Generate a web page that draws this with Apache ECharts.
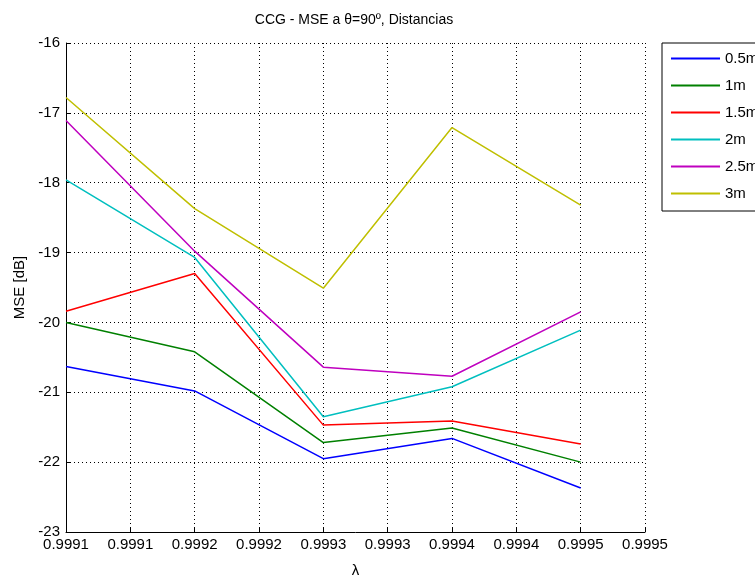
<!DOCTYPE html>
<html>
<head>
<meta charset="utf-8">
<script src="https://cdn.jsdelivr.net/npm/echarts@6/dist/echarts.min.js"></script>
<style>html,body{margin:0;padding:0;background:#fff;}#chart{width:755px;height:583px;}</style>
</head>
<body>
<div id="chart"></div>
<script>
const lambdas = [0.9991, 0.9992, 0.9993, 0.9994, 0.9995];
const seriesNames = ["0.5m", "1m", "1.5m", "2m", "2.5m", "3m"];
const mse_05 = [-20.63, -20.98, -21.95, -21.66, -22.37];
const mse_1  = [-20.00, -20.42, -21.72, -21.51, -22.00];
const mse_15 = [-19.84, -19.30, -21.47, -21.41, -21.74];
const mse_2  = [-17.96, -19.07, -21.35, -20.92, -20.11];
const mse_25 = [-17.11, -18.98, -20.64, -20.77, -19.85];
const mse_3  = [-16.78, -18.37, -19.51, -17.21, -18.32];
const xTickLabels = ["0.9991","0.9991","0.9992","0.9992","0.9993","0.9993","0.9994","0.9994","0.9995","0.9995"];
const xMin = 0.9991, xMax = 0.99955, xStep = 0.00005;
const yMin = -23, yMax = -16, yStep = 1;
const colors = ["#0000ff", "#008000", "#ff0000", "#00bfbf", "#bf00bf", "#bfbf00"];
const allValues = [mse_05, mse_1, mse_15, mse_2, mse_25, mse_3];

const FONT = "'Liberation Sans', Arial, sans-serif";
const chart = echarts.init(document.getElementById('chart'), null, {renderer: 'canvas'});
const option = {
  animation: false,
  backgroundColor: '#ffffff',
  color: colors,
  graphic: [{
    type: 'text', x: 354, y: 20,
    style: { text: 'CCG - MSE a θ=90º, Distancias', font: '14px ' + FONT, fill: '#000', textAlign: 'center', textVerticalAlign: 'middle' }
  }],
  grid: { left: 66, right: 110, top: 43, bottom: 48, containLabel: false },
  legend: {
    orient: 'vertical', left: 662, top: 43,
    padding: [8, 30, 10, 9], itemGap: 12, itemWidth: 49, itemHeight: 14,
    borderColor: '#000', borderWidth: 1, backgroundColor: '#fff',
    textStyle: { fontFamily: FONT, fontSize: 15, color: '#000' },
    data: seriesNames.map(n => ({ name: n, icon: 'path://M0,6L49,6L49,8L0,8Z' }))
  },
  xAxis: {
    type: 'value', min: xMin, max: xMax, interval: xStep,
    name: 'λ', nameLocation: 'middle', nameGap: 31,
    nameTextStyle: { fontFamily: FONT, fontSize: 15, color: '#000' },
    axisLine: { show: true, lineStyle: { color: '#000', width: 1 } },
    axisTick: { show: true, inside: true, length: 5, lineStyle: { color: '#000' } },
    axisLabel: { margin: 5, fontFamily: FONT, fontSize: 15, color: '#000',
      formatter: v => xTickLabels[Math.round((v - xMin) / xStep)] },
    splitLine: { show: true, lineStyle: { color: '#000', width: 1, type: [1, 3] } }
  },
  yAxis: {
    type: 'value', min: yMin, max: yMax, interval: yStep,
    name: 'MSE [dB]', nameLocation: 'middle', nameGap: 36, nameRotate: 90,
    nameTextStyle: { fontFamily: FONT, fontSize: 15, color: '#000' },
    axisLine: { show: true, lineStyle: { color: '#000', width: 1 } },
    axisTick: { show: true, inside: true, length: 5, lineStyle: { color: '#000' } },
    axisLabel: { margin: 6, fontFamily: FONT, fontSize: 15, color: '#000' },
    splitLine: { show: true, lineStyle: { color: '#000', width: 1, type: [1, 3] } }
  },
  series: seriesNames.map((name, i) => ({
    name: name, type: 'line', symbol: 'none',
    lineStyle: { width: 1.5, color: colors[i] },
    itemStyle: { color: colors[i] },
    data: lambdas.map((x, j) => [x, allValues[i][j]])
  }))
};
chart.setOption(option);
</script>
</body>
</html>
